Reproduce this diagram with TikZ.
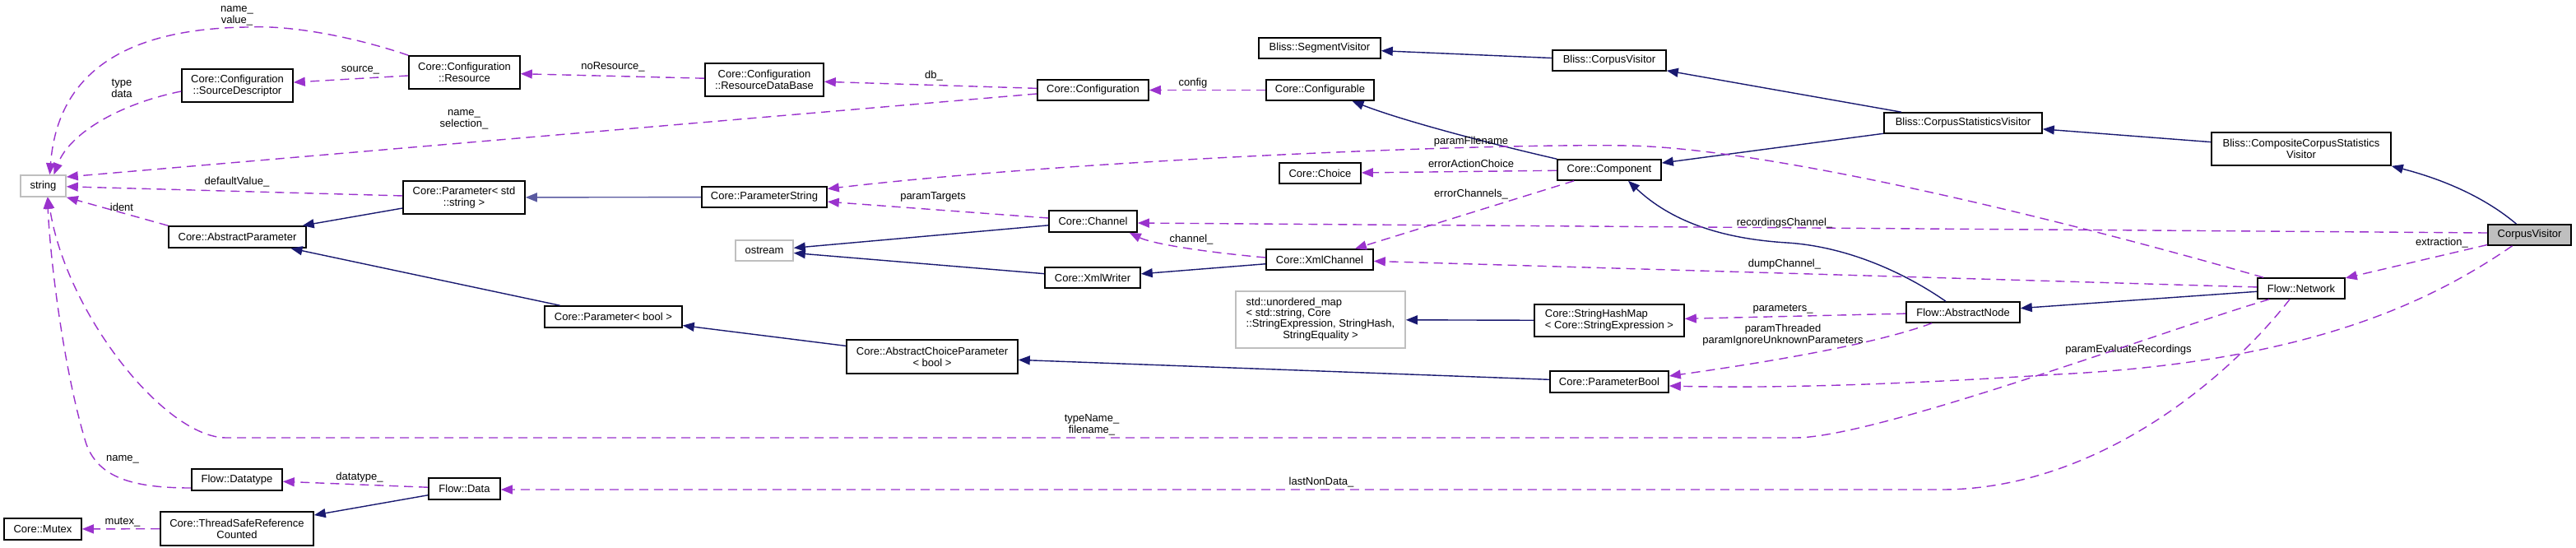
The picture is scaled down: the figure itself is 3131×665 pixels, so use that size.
\documentclass[tikz,border=0pt]{standalone}
\usepackage{fontspec}
\setmainfont{Liberation Sans}
\usetikzlibrary{arrows.meta}
\definecolor{navy}{HTML}{191970}
\definecolor{navylight}{HTML}{5A5AA0}
\definecolor{orchid}{HTML}{9A32CD}
\definecolor{boxgrey}{HTML}{BFBFBF}
\begin{document}
\begin{tikzpicture}[x=1pt,y=-1pt,
  font=\fontsize{13}{14}\selectfont,
  cls/.style={draw=black, line width=1.6pt, fill=white, inner sep=0pt, align=center},
  ext/.style={cls, draw=boxgrey},
  inh/.style={draw=navy, line width=1.4pt, -{Triangle[length=14pt,width=11pt]}},
  use/.style={draw=orchid, line width=1.4pt, dash pattern=on 11pt off 7pt, -{Triangle[length=14pt,width=11pt]}},
  lbl/.style={inner sep=0pt, align=center}]
\useasboundingbox (0,0) rectangle (3131,665);

% nodes
\node[ext,minimum width=55pt,minimum height=26pt] (str) at (52.5,226) {string};
\node[cls,minimum width=135pt,minimum height=40pt] (srcd) at (288.5,104) {Core::Configuration\\::SourceDescriptor};
\node[cls,minimum width=135pt,minimum height=40pt] (res) at (564.5,88) {Core::Configuration\\::Resource};
\node[cls,minimum width=144pt,minimum height=40pt] (rdb) at (929,97) {Core::Configuration\\::ResourceDataBase};
\node[cls,minimum width=135pt,minimum height=25pt] (config) at (1328.5,109.5) {Core::Configuration};
\node[cls,minimum width=131pt,minimum height=25pt] (cfgable) at (1604.5,109.5) {Core::Configurable};
\node[cls,minimum width=148pt,minimum height=25pt] (segv) at (1604,58.5) {Bliss::SegmentVisitor};
\node[cls,minimum width=138pt,minimum height=25pt] (bcv) at (1956,73.5) {Bliss::CorpusVisitor};
\node[cls,minimum width=192pt,minimum height=25pt] (csv) at (2386,149.5) {Bliss::CorpusStatisticsVisitor};
\node[cls,minimum width=218pt,minimum height=40pt] (ccsv) at (2797,181) {Bliss::CompositeCorpusStatistics\\Visitor};
\node[cls,fill=boxgrey,minimum width=101pt,minimum height=25pt] (cv) at (3074.5,285.5) {CorpusVisitor};
\node[cls,minimum width=126pt,minimum height=25pt] (comp) at (1956,206.5) {Core::Component};
\node[cls,minimum width=99pt,minimum height=25pt] (choice) at (1604.5,210.5) {Core::Choice};
\node[cls,minimum width=152pt,minimum height=25pt] (pstring) at (929,239.5) {Core::ParameterString};
\node[cls,minimum width=148pt,minimum height=40pt] (pstd) at (564,240) {Core::Parameter< std\\::string >};
\node[cls,minimum width=167pt,minimum height=26pt] (absp) at (288.5,288) {Core::AbstractParameter};
\node[cls,minimum width=107pt,minimum height=26pt] (chan) at (1328.5,269) {Core::Channel};
\node[ext,minimum width=70pt,minimum height=25pt] (ostr) at (929,304.5) {ostream};
\node[cls,minimum width=116pt,minimum height=25pt] (xmlw) at (1328,337.5) {Core::XmlWriter};
\node[cls,minimum width=130pt,minimum height=25pt] (xmlc) at (1604,315.5) {Core::XmlChannel};
\node[cls,minimum width=167pt,minimum height=26pt] (pbool) at (745.5,385) {Core::Parameter< bool >};
\node[cls,minimum width=208pt,minimum height=41pt] (acp) at (1133,433.5) {Core::AbstractChoiceParameter\\< bool >};
\node[ext,minimum width=206pt,minimum height=69pt,font=\fontsize{13}{13.3}\selectfont] (umap) at (1605,388.5) {\begin{tabular}{@{}l@{}}std::unordered\_map\\< std::string, Core\\::StringExpression, StringHash,\\\multicolumn{1}{@{}c@{}}{StringEquality >}\end{tabular}};
\node[cls,align=left,minimum width=182pt,minimum height=39pt] (shm) at (1956,389.5) {Core::StringHashMap\\< Core::StringExpression >};
\node[cls,minimum width=138pt,minimum height=25pt] (anode) at (2386,379.5) {Flow::AbstractNode};
\node[cls,minimum width=106pt,minimum height=25pt] (net) at (2797,350.5) {Flow::Network};
\node[cls,minimum width=144pt,minimum height=26pt] (pbl) at (1956,464) {Core::ParameterBool};
\node[cls,minimum width=110pt,minimum height=26pt] (dtype) at (288,583) {Flow::Datatype};
\node[cls,minimum width=87pt,minimum height=26pt] (data) at (564.5,594) {Flow::Data};
\node[cls,minimum width=186pt,minimum height=41pt] (tsrc) at (288,642.5) {Core::ThreadSafeReference\\Counted};
\node[cls,minimum width=94pt,minimum height=26pt] (mutex) at (52,643) {Core::Mutex};

% inheritance
\draw[inh] (pstd) -- (absp);
\draw[inh,draw=navylight] (pstring) -- (pstd);
\draw[inh] (pbool) -- (absp);
\draw[inh] (acp) -- (pbool);
\draw[inh] (pbl) -- (acp);
\draw[inh] (chan) -- (ostr);
\draw[inh] (xmlw) -- (ostr);
\draw[inh] (xmlc) -- (xmlw);
\draw[inh] (comp.north west) .. controls (1800,172) and (1700,145) .. ([xshift=39pt]cfgable.south);
\draw[inh] (bcv) -- (segv);
\draw[inh] (csv) -- (bcv);
\draw[inh] (csv) -- (comp);
\draw[inh] (ccsv) -- (csv);
\draw[inh] ([xshift=-16pt]cv.north) .. controls (3030,248) and (2985,222) .. (ccsv.south east);
\draw[inh] (net) -- (anode);
\draw[inh] ([xshift=-21pt]anode.north) .. controls (2320,335) and (2250,300) .. (2172,295) .. controls (2090,290) and (2030,268) .. ([xshift=23pt]comp.south);
\draw[inh] (shm) -- (umap);
\draw[inh] (data) -- (tsrc);

% usage
\draw[use] (res.north west) .. controls (440,48) and (360,30) .. (300,33) .. controls (150,35) and (70,90) .. ([xshift=8pt]str.north);
\node[lbl] (l1) at (288,19.5) {name\_\\value\_};
\draw[use] ([yshift=-7pt]srcd.west) .. controls (150,125) and (85,160) .. ([xshift=13pt]str.north);
\node[lbl] (l2) at (148,107.5) {type\\data};
\draw[use] (res) -- (srcd);
\node[lbl] (l3) at (438,85) {source\_};
\draw[use] (rdb) -- (res);
\node[lbl] (l4) at (745,81) {noResource\_};
\draw[use] (config) -- (rdb);
\node[lbl] (l5) at (1135,92) {db\_};
\draw[use] ([yshift=-4.5pt]config.west) -- ([yshift=11pt]str.east);
\node[lbl] (l6) at (564,145.5) {name\_\\selection\_};
\draw[use] (cfgable) -- (config);
\node[lbl] (l7) at (1450,101) {config};
\draw[use] (pstd) -- (str);
\node[lbl] (l8) at (288,221) {defaultValue\_};
\draw[use] (absp.north west) -- (str.south east);
\node[lbl] (l9) at (148,252) {ident};
\draw[use] (comp) -- (choice);
\node[lbl] (l10) at (1788,199) {errorActionChoice};
\draw[use] (comp) -- (xmlc);
\node[lbl] (l11) at (1788,236) {errorChannels\_};
\draw[use] ([xshift=-46pt]net.north) .. controls (2500,265) and (2150,180) .. (1978,177) .. controls (1800,174) and (1300,195) .. ([yshift=10pt]pstring.east);
\node[lbl] (l12) at (1788,172) {paramFilename};
\draw[use] (chan) -- (pstring);
\node[lbl] (l13) at (1134,239) {paramTargets};
\draw[use] ([yshift=2.5pt]xmlc.west) .. controls (1460,306) and (1400,296) .. ([xshift=-10pt]chan.south east);
\node[lbl] (l14) at (1448,291) {channel\_};
\draw[use] ([yshift=2.5pt]cv.west) -- ([yshift=-2pt]chan.east);
\node[lbl] (l15) at (2169,271) {recordingsChannel\_};
\draw[use] (net) -- (xmlc);
\node[lbl] (l16) at (2169,321) {dumpChannel\_};
\draw[use] (cv) -- (net);
\node[lbl] (l17) at (2968,295) {extraction\_};
\draw[use] (anode) -- (shm);
\node[lbl] (l18) at (2167,376) {parameters\_};
\draw[use] ([xshift=-38pt]anode.south) .. controls (2280,418) and (2150,440) .. ([yshift=7pt]pbl.east);
\node[lbl] (l19) at (2167,407) {paramThreaded\\paramIgnoreUnknownParameters};
\draw[use] ([xshift=-21pt]cv.south) .. controls (2950,370) and (2800,440) .. (2500,455) .. controls (2300,468) and (2150,472) .. ([yshift=-5pt]pbl.east);
\node[lbl] (l20) at (2587,425) {paramEvaluateRecordings};
\draw[use] ([xshift=-39pt]net.south) .. controls (2620,405) and (2280,532) .. (2182,532) -- (275,532) .. controls (200,532) and (80,380) .. ([xshift=6pt]str.south);
\node[lbl] (l21) at (1327,516.5) {typeName\_\\filename\_};
\draw[use] ([xshift=-14pt]net.south) .. controls (2700,470) and (2540,595) .. (2360,595) -- ([yshift=-1pt]data.east);
\node[lbl] (l22) at (1606,586) {lastNonData\_};
\draw[use] (data) -- (dtype);
\node[lbl] (l23) at (437,580) {datatype\_};
\draw[use] ([yshift=-10pt]dtype.west) .. controls (160,593) and (120,580) .. (105,540) .. controls (80,460) and (62,330) .. ([xshift=5pt]str.south);
\node[lbl] (l24) at (149,558) {name\_};
\draw[use] (tsrc) -- (mutex);
\node[lbl] (l25) at (149,635) {mutex\_};
\end{tikzpicture}
\end{document}
